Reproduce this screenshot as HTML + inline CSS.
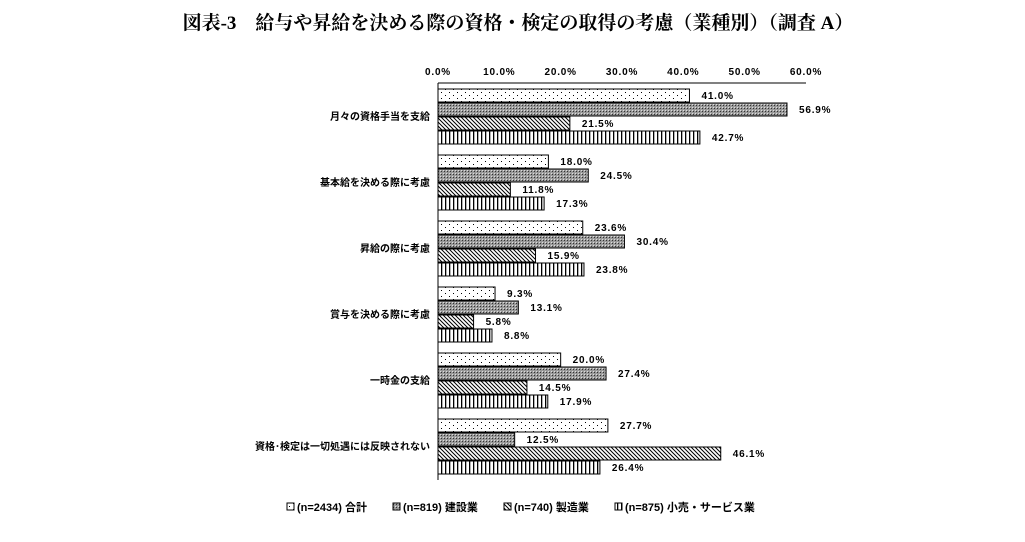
<!DOCTYPE html>
<html><head><meta charset="utf-8"><style>
body{margin:0;background:#fff;width:1025px;height:537px;overflow:hidden}
text{font-family:"Liberation Sans","Noto Sans CJK JP",sans-serif}
</style></head><body>
<svg width="1025" height="537">
<defs>
<pattern id="p0" width="8" height="6" patternUnits="userSpaceOnUse"><rect width="8" height="6" fill="#fff"/><rect x="1" y="2" width="1" height="1" fill="#000"/><rect x="5" y="5" width="1" height="1" fill="#000"/></pattern>
<pattern id="p1" width="3" height="3" patternUnits="userSpaceOnUse"><rect width="3" height="3" fill="#999"/><rect width="1" height="1" fill="#333"/><rect x="2" y="2" width="1" height="1" fill="#ddd"/></pattern>
<pattern id="p2" width="4" height="4" patternUnits="userSpaceOnUse"><rect width="4" height="4" fill="#fff"/><path d="M0,0L4,4M-1,3L1,5M3,-1L5,1" stroke="#000" stroke-width="1"/></pattern>
<pattern id="p3" width="4" height="4" patternUnits="userSpaceOnUse"><rect width="4" height="4" fill="#fff"/><rect x="1" width="1.3" height="4" fill="#000"/></pattern>
</defs>
<text x="518" y="29" text-anchor="middle" font-size="19" font-weight="bold" style='font-family:"Liberation Serif","Noto Serif CJK SC",serif'>図表-3　給与や昇給を決める際の資格・検定の取得の考慮（業種別）（調査 A）</text>
<g id="ticks"></g>
<g id="bars"></g>
<g id="legend"></g>
</svg>
<script>
const categories=["月々の資格手当を支給","基本給を決める際に考慮","昇給の際に考慮","賞与を決める際に考慮","一時金の支給","資格･検定は一切処遇には反映されない"];
const seriesTotal=[41.0,18.0,23.6,9.3,20.0,27.7];
const seriesConstruction=[56.9,24.5,30.4,13.1,27.4,12.5];
const seriesManufacturing=[21.5,11.8,15.9,5.8,14.5,46.1];
const seriesRetail=[42.7,17.3,23.8,8.8,17.9,26.4];
const seriesNames=["(n=2434) 合計","(n=819) 建設業","(n=740) 製造業","(n=875) 小売・サービス業"];
const tickValues=[0,10,20,30,40,50,60];
const series=[seriesTotal,seriesConstruction,seriesManufacturing,seriesRetail];
const NS="http://www.w3.org/2000/svg";
const x0=438,pxPer=(806-438)/60;
const X=v=>x0+v*pxPer;
const Y=(g,s)=>89+g*66+s*14;
function mk(t,a,p){const e=document.createElementNS(NS,t);for(const k in a)e.setAttribute(k,a[k]);p.appendChild(e);return e;}
const tg=document.getElementById('ticks');
tickValues.forEach(v=>{const t=mk('text',{x:X(v),y:75,'text-anchor':'middle','font-size':10,'font-weight':'bold','letter-spacing':'0.8'},tg);t.textContent=v.toFixed(1)+'%';

});
const ax=mk('line',{x1:x0,y1:83,x2:806,y2:83,stroke:'#000'},tg);


const ay=mk('line',{x1:x0,y1:83,x2:x0,y2:480,stroke:'#000'},tg);


const bg=document.getElementById('bars');
categories.forEach((c,g)=>{
 const t=mk('text',{x:430,y:Y(g,1)+17,'text-anchor':'end','font-size':10,'font-weight':'bold'},bg);t.textContent=c;
 
 
 series.forEach((s,i)=>{
  const r=mk('rect',{x:x0,y:Y(g,i),width:X(s[g])-x0,height:13,fill:'url(#p'+i+')',stroke:'#000','stroke-width':1},bg);
  
  
  const l=mk('text',{x:X(s[g])+12,y:Y(g,i)+10,'font-size':10,'font-weight':'bold','letter-spacing':'0.8'},bg);l.textContent=s[g].toFixed(1)+'%';
  
  
 });
});
const lg=document.getElementById('legend');
const lx=[287,393,504,615];
seriesNames.forEach((n,i)=>{
 const r=mk('rect',{x:lx[i],y:503,width:7,height:7,fill:'url(#p'+i+')',stroke:'#000'},lg);
 
 
 const t=mk('text',{x:lx[i]+10,y:511,'font-size':11,'font-weight':'bold'},lg);t.textContent=n;
 
 
});
</script>
</body></html>
